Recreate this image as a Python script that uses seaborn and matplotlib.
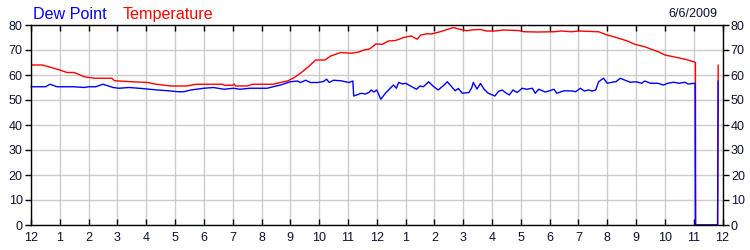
import matplotlib
matplotlib.use("Agg")
import matplotlib.pyplot as plt
import seaborn as sns
import pandas as pd

# ---- data (hours since midnight, °F) ----
temp_hours = [0, 0.4, 0.7, 1.0, 1.25, 1.5, 1.85, 2.2, 2.8, 2.9, 3.5, 4.05, 4.3, 4.85, 5.4, 5.75,
              6.05, 6.65, 6.7, 7.0, 7.05, 7.1, 7.5, 7.7, 8.4, 8.65, 8.9, 9.1, 9.35, 9.6, 9.88,
              10.2, 10.4, 10.75, 11.1, 11.35, 11.55, 11.75, 11.97, 12.2, 12.4, 12.65, 12.94,
              13.1, 13.2, 13.4, 13.53, 13.75, 13.9, 14.2, 14.44, 14.66, 14.9, 15.13, 15.35,
              15.6, 15.8, 16.1, 16.4, 16.9, 17.1, 17.6, 18.15, 18.4, 18.75, 19.0, 19.7, 20.0,
              20.4, 20.7, 20.95, 21.3, 21.6, 21.77, 22.0, 22.3, 22.7, 23.0, 23.06, 23.07,
              23.83, 23.85]
temp_vals = [64, 64, 63, 62, 61, 61, 59.3, 58.7, 58.7, 57.7, 57.3, 57, 56.4, 55.6, 55.6, 56.3,
             56.3, 56.3, 55.9, 55.9, 56.4, 55.6, 55.6, 56.3, 56.3, 57, 57.6, 58.7, 60.7, 63, 66,
             66, 67.6, 69, 68.7, 69.1, 70, 70.4, 72.4, 72.3, 73.6, 73.8, 75, 75.4, 75.6, 74.3,
             76, 76.5, 76.4, 77.3, 78.2, 79, 78.2, 77.7, 78.1, 78.2, 77.6, 77.6, 78, 77.8, 77.3,
             77.2, 77.3, 77.6, 77.3, 77.6, 77.3, 76, 74.7, 73.6, 72.3, 71.3, 70, 69.3, 68, 67.3,
             66.3, 65.3, 65, 0, 0, 64]

dew_hours = [0, 0.5, 0.66, 0.9, 1.47, 1.85, 2.0, 2.25, 2.5, 2.85, 3.05, 3.4, 3.75, 4.4, 4.85,
             5.1, 5.3, 5.55, 6.0, 6.33, 6.7, 7.03, 7.25, 7.6, 8.2, 8.4, 8.66, 9.0, 9.25, 9.35,
             9.53, 9.7, 9.95, 10.15, 10.26, 10.35, 10.5, 10.75, 11.03, 11.17, 11.2, 11.47, 11.6,
             11.73, 11.8, 11.9, 12.0, 12.14, 12.3, 12.47, 12.58, 12.68, 12.76, 12.9, 13.0,
             13.22, 13.38, 13.5, 13.62, 13.8, 13.95, 14.13, 14.3, 14.45, 14.6, 14.72, 14.83,
             14.97, 15.2, 15.3, 15.35, 15.48, 15.6, 15.72, 15.87, 16.1, 16.22, 16.35, 16.5,
             16.6, 16.73, 16.87, 17.05, 17.2, 17.4, 17.5, 17.62, 17.75, 17.85, 18.0, 18.15,
             18.25, 18.5, 18.8, 18.9, 19.07, 19.2, 19.35, 19.48, 19.6, 19.7, 19.87, 20.0,
             20.25, 20.3, 20.45, 20.6, 20.8, 21.0, 21.2, 21.3, 21.5, 21.75, 21.95, 22.1, 22.3,
             22.5, 22.7, 22.8, 23.05, 23.06, 23.83, 23.85]
dew_vals = [55.3, 55.3, 56.3, 55.3, 55.3, 55, 55.3, 55.3, 56.3, 55, 54.7, 55, 54.7, 54, 53.6,
            53.3, 53.3, 54, 54.7, 55, 54.3, 54.7, 54.3, 54.7, 54.7, 55.3, 56, 57.3, 57.6, 57,
            57.9, 57, 57, 57.4, 58.3, 57, 57.9, 57.7, 57, 57.6, 51.6, 52.7, 52.4, 53, 54, 53.2,
            54, 50.3, 52.7, 54.7, 56, 54.7, 57, 56.4, 56.7, 55.3, 54.3, 55.6, 55.3, 57.3, 55.6,
            54, 55.6, 57.3, 55.3, 53.7, 54.6, 52.7, 53, 55, 57, 54.4, 56.6, 54.4, 52.7, 51.6,
            53.4, 54, 52.7, 52, 54, 53, 54.7, 54.3, 54.7, 52.7, 54.3, 53.7, 53.2, 53.7, 54.3,
            52.7, 53.7, 53.6, 53.3, 54.7, 53.6, 54, 53.6, 54, 57.3, 58.7, 56.7, 57.3, 57.3,
            58.7, 58, 57.1, 57.3, 56.7, 57.6, 56.7, 56.7, 56, 56.7, 57.1, 56.7, 57.1, 56.4,
            56.7, 0, 0, 57.6]

hour_ticks = list(range(25))
hour_labels = ["12", "1", "2", "3", "4", "5", "6", "7", "8", "9", "10", "11",
               "12", "1", "2", "3", "4", "5", "6", "7", "8", "9", "10", "11", "12"]
y_ticks = [0, 10, 20, 30, 40, 50, 60, 70, 80]
date_label = "6/6/2009"

sns.set_theme(style="white")
plt.rcParams["font.family"] = ["Liberation Sans", "DejaVu Sans"]

fig = plt.figure(figsize=(7.5, 2.5), dpi=100)
ax = fig.add_axes([31 / 750, 1 - 225 / 250, (722.5 - 31) / 750, 200 / 250])

temp_df = pd.DataFrame({"hour": temp_hours, "value": temp_vals})
dew_df = pd.DataFrame({"hour": dew_hours, "value": dew_vals})

sns.lineplot(data=temp_df, x="hour", y="value", ax=ax, color="#ff0000", linewidth=1.0,
             estimator=None, sort=False)
sns.lineplot(data=dew_df, x="hour", y="value", ax=ax, color="#0000ff", linewidth=1.0,
             estimator=None, sort=False, clip_on=False)

ax.set_xlim(0, 24)
ax.set_ylim(0, 80)
ax.set_xlabel("")
ax.set_ylabel("")
ax.set_xticks(hour_ticks)
ax.set_xticklabels(hour_labels)
ax.set_yticks(y_ticks)
ax.set_yticklabels([str(v) for v in y_ticks])

ax.grid(True, color="#cccccc", linewidth=1.0)
ax.set_axisbelow(True)
for s in ax.spines.values():
    s.set_visible(True)
    s.set_color("black")
    s.set_linewidth(1.0)

tick_color = "#0a1030"
ax.tick_params(axis="x", which="both", direction="in", length=4, width=1, color="black",
               top=True, bottom=True, labelsize=9, labelcolor=tick_color, pad=5)
ax.tick_params(axis="y", which="both", direction="out", length=4, width=1, color="black",
               left=True, right=True, labelleft=True, labelright=True,
               labelsize=9, labelcolor=tick_color, pad=2)

fig.text(33 / 750, 1 - 19 / 250, "Dew Point", color="#0000ff", fontsize=11.6, ha="left",
         va="baseline")
fig.text(123 / 750, 1 - 19 / 250, "Temperature", color="#ff0000", fontsize=11.6, ha="left",
         va="baseline")
fig.text(717 / 750, 1 - 17 / 250, date_label, color=tick_color, fontsize=9, ha="right",
         va="baseline")

fig.savefig("out.png", dpi=100, facecolor="white")
